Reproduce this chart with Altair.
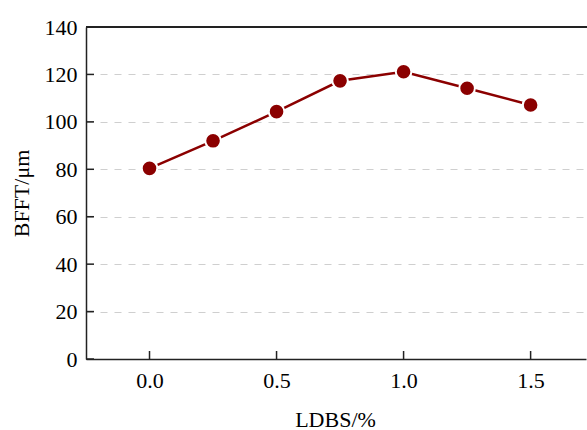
import altair as alt
import pandas as pd

ldbs = [0.0, 0.25, 0.5, 0.75, 1.0, 1.25, 1.5]
bfft = [80.4, 92.0, 104.3, 117.3, 121.1, 114.2, 107.1]
x_ticks = [0.0, 0.5, 1.0, 1.5]
y_ticks = [0, 20, 40, 60, 80, 100, 120, 140]

W, H = 500, 332
FONT = "Liberation Serif"
RED = "#8B0000"

df = pd.DataFrame({"x": ldbs, "y": bfft})
xt = pd.DataFrame({"x": x_ticks})
yt = pd.DataFrame({"y": y_ticks})

xscale = alt.Scale(domain=[-0.25, 1.718], nice=False, zero=False)
yscale = alt.Scale(domain=[0, 140], nice=False)

xaxis = alt.Axis(
    title="LDBS/%", values=x_ticks, format=".1f", ticks=False, grid=False,
    domainColor="#222", domainWidth=1.5, labelFont=FONT, labelFontSize=22,
    labelColor="black", labelPadding=11, titleFont=FONT, titleFontSize=22,
    titleFontWeight="normal", titleColor="black", titleX=249, titleY=67,
    titleBaseline="alphabetic", titleAlign="center",
)
yaxis = alt.Axis(
    title="BFFT/μm", values=y_ticks, ticks=False, grid=True, gridDash=[7, 7],
    gridColor="#cfcfcf", gridWidth=1, domainColor="#222", domainWidth=1.5,
    labelFont=FONT, labelFontSize=22, labelColor="black", labelPadding=9,
    titleFont=FONT, titleFontSize=22, titleFontWeight="normal", titleColor="black",
    titleX=-58, titleY=166, titleAngle=-90, titleBaseline="alphabetic", titleAlign="center",
)

line = alt.Chart(df).mark_line(color=RED, strokeWidth=2.5).encode(
    x=alt.X("x:Q", scale=xscale, axis=xaxis),
    y=alt.Y("y:Q", scale=yscale, axis=yaxis),
)
pts = alt.Chart(df).mark_point(
    filled=True, shape="circle", size=243, color=RED, stroke="white",
    strokeWidth=2, opacity=1, fillOpacity=1, strokeOpacity=1,
).encode(x="x:Q", y="y:Q")

xtick = alt.Chart(xt).mark_rule(color="#222", strokeWidth=1.5).encode(
    x="x:Q", y=alt.value(H), y2=alt.value(H - 8)
)
ytick = alt.Chart(yt).mark_rule(color="#222", strokeWidth=1.5).encode(
    y="y:Q", x=alt.value(0), x2=alt.value(8)
)
top = alt.Chart(xt).mark_rule(color="#222", strokeWidth=1.5).encode(
    y=alt.value(0), x=alt.value(0), x2=alt.value(W + 1)
)

chart = alt.layer(ytick, xtick, top, line, pts).properties(
    width=W, height=H, background="white",
    autosize=alt.AutoSizeParams(type="none"),
    padding={"left": 86, "top": 27, "right": 1, "bottom": 71},
).configure_view(stroke=None)

chart.save("out.html", embed_options={"renderer": "svg", "actions": False})
